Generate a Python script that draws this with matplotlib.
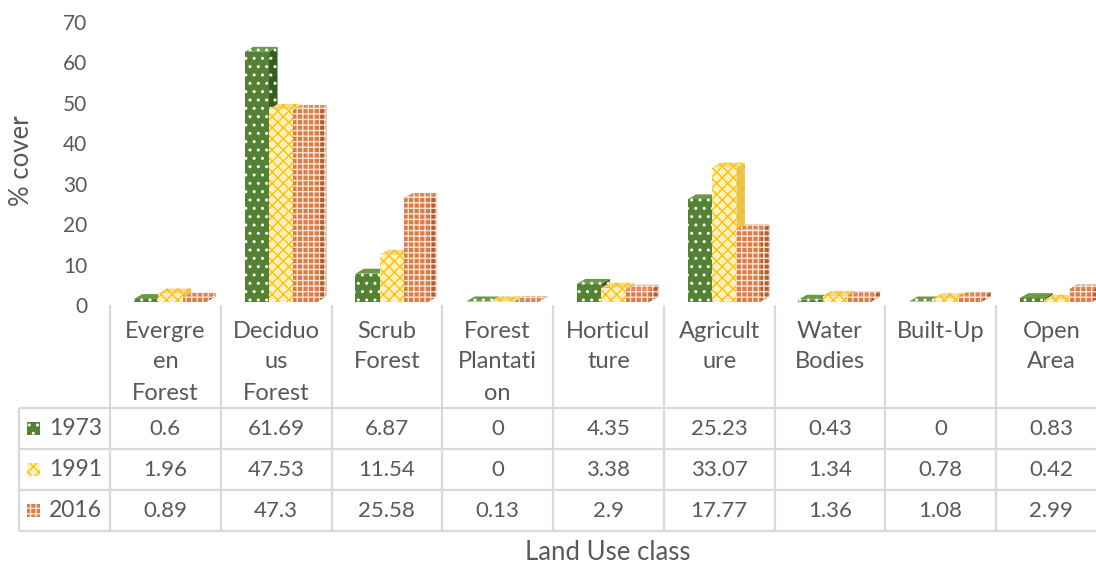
import matplotlib
matplotlib.use("Agg")
import matplotlib.pyplot as plt
from matplotlib.patches import Polygon, Rectangle

plt.rcParams['font.family'] = ['Lato', 'DejaVu Sans']
plt.rcParams['hatch.linewidth'] = 1.0

# ---- data -------------------------------------------------------------
categories = ["Evergreen Forest", "Deciduous Forest", "Scrub Forest",
              "Forest Plantation", "Horticulture", "Agriculture",
              "Water Bodies", "Built-Up", "Open Area"]
header_lines = [["Evergre", "en", "Forest"], ["Deciduo", "us", "Forest"],
                ["Scrub", "Forest"], ["Forest", "Plantati", "on"],
                ["Horticul", "ture"], ["Agricult", "ure"],
                ["Water", "Bodies"], ["Built-Up"], ["Open", "Area"]]
years = ["1973", "1991", "2016"]
cover_1973 = [0.6, 61.69, 6.87, 0, 4.35, 25.23, 0.43, 0, 0.83]
cover_1991 = [1.96, 47.53, 11.54, 0, 3.38, 33.07, 1.34, 0.78, 0.42]
cover_2016 = [0.89, 47.3, 25.58, 0.13, 2.9, 17.77, 1.36, 1.08, 2.99]
series = [cover_1973, cover_1991, cover_2016]
y_ticks = [0, 10, 20, 30, 40, 50, 60, 70]

# ---- styles -------------------------------------------------------------
styles = [
    dict(front='#548235', side='#3A5C24', top='#6A9A48', hatch_col='#FFFFFF', hatch='..'),
    dict(front='#FFF1C2', side='#E2C668', top='#F5DA86', hatch_col='#FFC000', hatch='xxx'),
    dict(front='#D97C45', side='#AE5F32', top='#D08A5E', hatch_col='#FBE3D3', hatch='+++'),
]
text_col = '#595959'
grid_col = '#D9D9D9'

W, H = 1096, 567
fig = plt.figure(figsize=(W / 100, H / 100), dpi=100)
fig.patch.set_facecolor('white')

# plot area in pixels
x_left, col_w = 110.0, 110.75
y_zero, y_top = 305.0, 21.7
ax = fig.add_axes([x_left / W, (H - y_zero) / H, 9 * col_w / W, (y_zero - y_top) / H])
ax.set_xlim(0, 9)
ax.set_ylim(0, 70)
for s in ax.spines.values():
    s.set_visible(False)
ax.set_xticks([])
ax.set_yticks(y_ticks)
ax.tick_params(axis='y', length=0, pad=16.5, labelsize=15, labelcolor=text_col)
ax.patch.set_alpha(0)

ppx = col_w
ppy = (y_zero - y_top) / 70.0
dx = 8.5 / ppx          # depth offset, horizontal
dy = 5.0 / ppy          # depth offset, vertical
lift = 3.5 / ppy        # front face floor sits a little above the wall's zero
bw = 24.4 / ppx
start = -31.5 / ppx

z = 2
for i in range(len(categories)):
    c = i + 0.5
    for j, vals in enumerate(series):
        st = styles[j]
        v = vals[i]
        x0 = c + start + j * bw
        x1 = x0 + bw
        base = lift
        top = v + lift
        side = Polygon([(x1, base), (x1, top), (x1 + dx, top + dy), (x1 + dx, base + dy)],
                       closed=True, facecolor=st['side'], edgecolor=st['hatch_col'],
                       hatch=st['hatch'], linewidth=0, clip_on=False, zorder=z)
        ax.add_patch(side)
        lid = Polygon([(x0, top), (x1, top), (x1 + dx, top + dy), (x0 + dx, top + dy)],
                      closed=True, facecolor=st['top'], edgecolor=st['hatch_col'],
                      hatch=st['hatch'], linewidth=0, clip_on=False, zorder=z + 1)
        ax.add_patch(lid)
        bars = ax.bar(x0, v, width=bw, bottom=base, align='edge', color=st['front'],
                      edgecolor=st['hatch_col'], hatch=st['hatch'], linewidth=0,
                      zorder=z + 2)
        for b in bars:
            b.set_clip_on(False)
        z += 3

# ---- overlay in pixel coordinates: data table and axis titles ---------
ov = fig.add_axes([0, 0, 1, 1])
ov.set_xlim(0, W)
ov.set_ylim(H, 0)
ov.axis('off')
ov.patch.set_alpha(0)

row_lines = [408, 449.3, 490.3, 531]
for k in range(10):
    xb = x_left + k * col_w
    ov.plot([xb, xb], [305, row_lines[-1]], color=grid_col, lw=1.6, solid_capstyle='butt')
ov.plot([19, 19], [row_lines[0], row_lines[-1]], color=grid_col, lw=1.6, solid_capstyle='butt')
for yl in row_lines:
    ov.plot([19, W], [yl, yl], color=grid_col, lw=1.6, solid_capstyle='butt')

header_y = [331, 362, 393]
for i, lines in enumerate(header_lines):
    cx = x_left + (i + 0.5) * col_w
    for k, ln in enumerate(lines):
        ov.text(cx, header_y[k], ln, ha='center', va='center', fontsize=17, color=text_col)

for r, vals in enumerate(series):
    cy = (row_lines[r] + row_lines[r + 1]) / 2
    for i, v in enumerate(vals):
        cx = x_left + (i + 0.5) * col_w
        ov.text(cx, cy, f"{v:g}", ha='center', va='center', fontsize=16, color=text_col)
    st = styles[r]
    ov.add_patch(Rectangle((27, cy - 6.5), 13, 13, facecolor=st['front'],
                           edgecolor=st['hatch_col'], hatch=st['hatch'], linewidth=0))
    ov.text(49, cy, years[r], ha='left', va='center', fontsize=16.5, color=text_col)

ov.text(22, 161, "% cover", rotation=90, ha='center', va='center', fontsize=18.5, color=text_col)
ov.text(608, 552, "Land Use class", ha='center', va='center', fontsize=18.5, color=text_col)

fig.savefig("out.png", dpi=100, facecolor='white')
